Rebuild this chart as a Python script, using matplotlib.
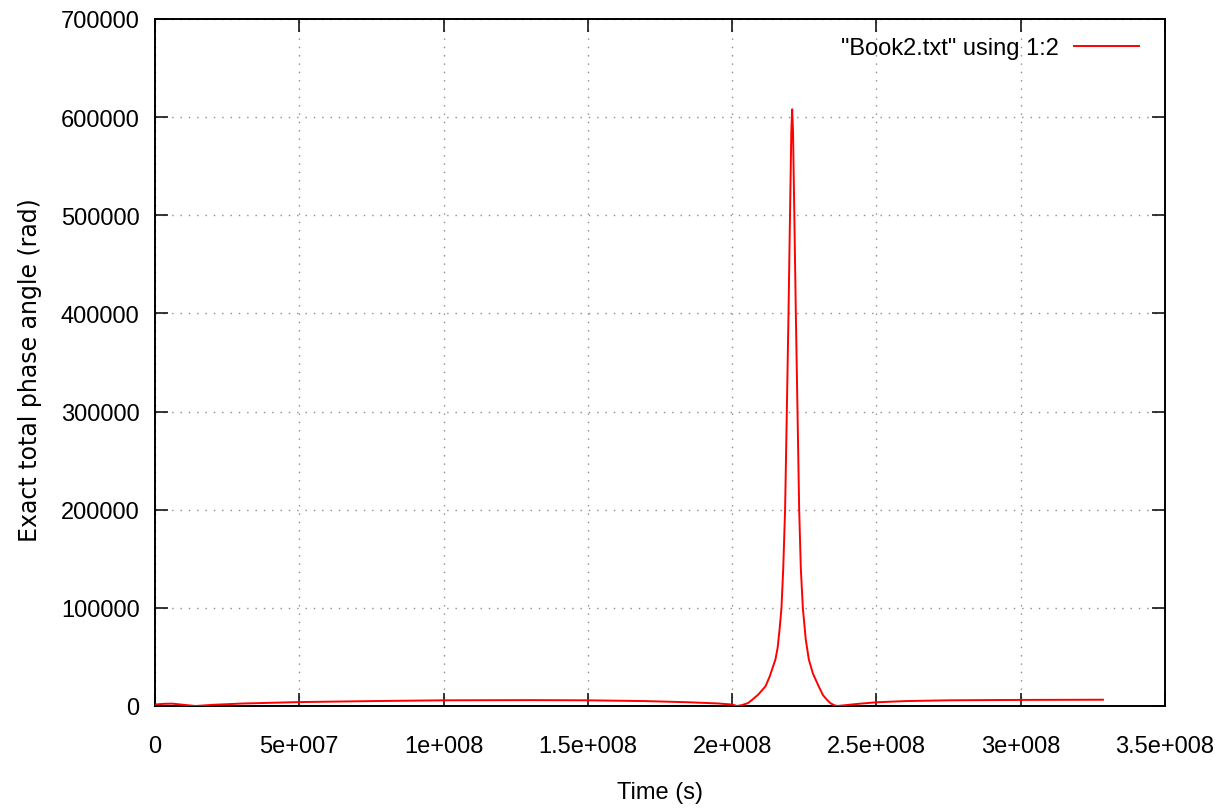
import matplotlib
matplotlib.use("Agg")
import matplotlib.pyplot as plt

# ---- data ----
time_s = [0, 3e6, 6e6, 1e7, 1.4e7, 2e7, 3e7, 5e7, 7.5e7, 1e8, 1.3e8, 1.5e8,
          1.7e8, 1.85e8, 1.95e8, 2.0e8, 2.017e8, 2.035e8, 2.055e8, 2.069e8,
          2.09e8, 2.1155e8, 2.13e8, 2.15e8, 2.158e8, 2.165e8, 2.171e8,
          2.177e8, 2.1835e8, 2.1895e8, 2.1953e8, 2.2005e8, 2.205e8, 2.208e8,
          2.211e8, 2.2155e8, 2.2207e8, 2.2265e8, 2.2323e8, 2.238e8, 2.245e8,
          2.255e8, 2.2657e8, 2.28e8, 2.30e8, 2.315e8, 2.329e8, 2.34e8,
          2.352e8, 2.364e8, 2.43e8, 2.5e8, 2.6e8, 2.75e8, 3.0e8, 3.285e8]
phase_rad = [1500, 2200, 2400, 1200, 0, 1200, 2500, 4000, 5000, 5800, 6000,
             5800, 5000, 3800, 2600, 1500, 0, 1000, 3000, 6200, 11500, 20000,
             30000, 47400, 60000, 80000, 100000, 140000, 200000, 300000,
             400000, 500000, 585000, 608000, 585000, 500000, 400000, 300000,
             200000, 140000, 100000, 68000, 47400, 33000, 20000, 11000, 6200,
             3000, 1000, 0, 2000, 3800, 5000, 5800, 6200, 6400]

xticks = [0, 5e7, 1e8, 1.5e8, 2e8, 2.5e8, 3e8, 3.5e8]
xtick_labels = ["0", "5e+007", "1e+008", "1.5e+008", "2e+008", "2.5e+008",
                "3e+008", "3.5e+008"]
yticks = [0, 100000, 200000, 300000, 400000, 500000, 600000, 700000]
ytick_labels = ["0", "100000", "200000", "300000", "400000", "500000",
                "600000", "700000"]
series_label = '"Book2.txt" using 1:2'

plt.rcParams['font.family'] = ['Liberation Sans', 'DejaVu Sans']

fig = plt.figure(figsize=(12.15, 8.12), dpi=100)
ax = fig.add_axes([155/1215, 1 - 707/812, 1010/1215, 687/812])

ax.plot(time_s, phase_rad, color='#ff0000', lw=1.4, label=series_label,
        zorder=3, solid_joinstyle='round')

ax.set_xlim(0, 3.5e8)
ax.set_ylim(0, 700000)
ax.set_xticks(xticks)
ax.set_xticklabels(xtick_labels)
ax.set_yticks(yticks)
ax.set_yticklabels(ytick_labels)

ax.tick_params(axis='both', direction='in', length=9.5, width=1.1,
               top=True, right=True, labelsize=17, colors='black')
ax.tick_params(axis='x', pad=21)
ax.tick_params(axis='y', pad=11)

for s in ax.spines.values():
    s.set_linewidth(1.4)
    s.set_color('black')

ax.grid(True, color='#8c8c8c', linestyle=(0, (1, 5)), linewidth=1.0, zorder=0)
ax.set_axisbelow(True)

ax.set_xlabel('Time (s)', fontsize=17, va='center')
ax.xaxis.set_label_coords(0.5, -0.125)
ax.set_ylabel('Exact total phase angle (rad)', fontsize=17, va='center',
              family=['DejaVu Sans'])
ax.yaxis.set_label_coords(-0.124, 0.49)

ax.legend(loc='center right', bbox_to_anchor=(0.974, 0.958), frameon=False,
          markerfirst=False, fontsize=17, handlelength=2.75,
          handletextpad=0.64, borderaxespad=0, borderpad=0)

fig.savefig('out.png', dpi=100)
